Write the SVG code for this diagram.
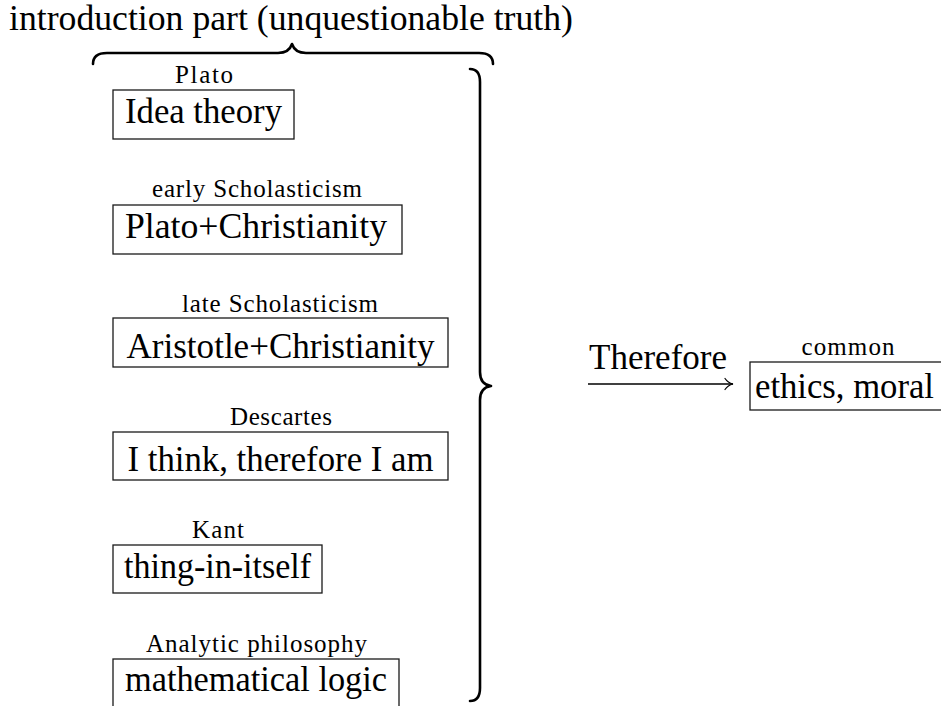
<svg xmlns="http://www.w3.org/2000/svg" width="941" height="706" viewBox="0 0 941 706">
<style>
.box{fill:#fff;stroke:#1a1a1a;stroke-width:1.3}
.big{font-family:"Liberation Serif","Times New Roman",serif;font-size:35px;fill:#000;text-anchor:middle}
.small{font-family:"Liberation Serif","Times New Roman",serif;font-size:25px;fill:#000;text-anchor:middle}
.brace{fill:none;stroke:#000;stroke-width:2.6;stroke-linecap:round;stroke-linejoin:round}
.conn{fill:none;stroke:#000;stroke-width:1.3}
</style>
<defs>
<marker id="arr" markerWidth="12" markerHeight="14" refX="10" refY="7" orient="auto" markerUnits="userSpaceOnUse">
<path d="M2,1.5 C4,4.5 7,6.3 10,7 C7,7.7 4,9.5 2,12.5" fill="none" stroke="#000" stroke-width="1.2" stroke-linecap="round"/>
</marker>
</defs>
<g id="title">
<text class="big" x="291" y="30" textLength="564" lengthAdjust="spacingAndGlyphs">introduction part (unquestionable truth)</text>
<path class="brace" d="M93,64 C93,57 97,53 107,53 L278,53 C286,53 290,50 292,44 C294,50 298,53 306,53 L479,53 C489,53 493,57 493,64"/>
</g>
<g id="rightbrace">
<path class="brace" d="M470,69 C477,69 480,73 480,82 L480,372 C480,381 484,385 491,386 C484,387 480,391 480,400 L480,688 C480,697 477,701 470,701"/>
</g>
<g id="node-plato">
<text class="small" x="204" y="83" textLength="58" lengthAdjust="spacing">Plato</text>
<rect class="box" x="113" y="90" width="181" height="49"/>
<text class="big" x="203.5" y="123" textLength="157" lengthAdjust="spacingAndGlyphs">Idea theory</text>
</g>
<g id="node-early">
<text class="small" x="257" y="197" textLength="210" lengthAdjust="spacing">early Scholasticism</text>
<rect class="box" x="113" y="205" width="289" height="49"/>
<text class="big" x="256" y="238" textLength="262" lengthAdjust="spacingAndGlyphs">Plato+Christianity</text>
</g>
<g id="node-late">
<text class="small" x="280" y="312" textLength="196" lengthAdjust="spacing">late Scholasticism</text>
<rect class="box" x="113" y="318" width="335" height="49"/>
<text class="big" x="280.5" y="358" textLength="308" lengthAdjust="spacingAndGlyphs">Aristotle+Christianity</text>
</g>
<g id="node-descartes">
<text class="small" x="281" y="425" textLength="102" lengthAdjust="spacing">Descartes</text>
<rect class="box" x="113" y="432" width="335" height="48"/>
<text class="big" x="280.5" y="471" textLength="306" lengthAdjust="spacingAndGlyphs">I think, therefore I am</text>
</g>
<g id="node-kant">
<text class="small" x="218" y="538" textLength="52" lengthAdjust="spacing">Kant</text>
<rect class="box" x="113" y="545" width="209" height="48"/>
<text class="big" x="217.5" y="578" textLength="187" lengthAdjust="spacingAndGlyphs">thing-in-itself</text>
</g>
<g id="node-analytic">
<text class="small" x="256.5" y="652" textLength="221" lengthAdjust="spacing">Analytic philosophy</text>
<rect class="box" x="113" y="659" width="286" height="49"/>
<text class="big" x="256" y="691" textLength="262" lengthAdjust="spacingAndGlyphs">mathematical logic</text>
</g>
<g id="node-common">
<text class="small" x="848" y="355" textLength="93" lengthAdjust="spacing">common</text>
<rect class="box" x="750" y="362" width="196" height="48"/>
<text class="big" x="844.5" y="398" textLength="179" lengthAdjust="spacingAndGlyphs">ethics, moral</text>
</g>
<g id="connectors">
<line class="conn" x1="588" y1="384" x2="733" y2="384" marker-end="url(#arr)"/>
<text class="big" x="658" y="369" textLength="138" lengthAdjust="spacingAndGlyphs">Therefore</text>
</g>
</svg>
